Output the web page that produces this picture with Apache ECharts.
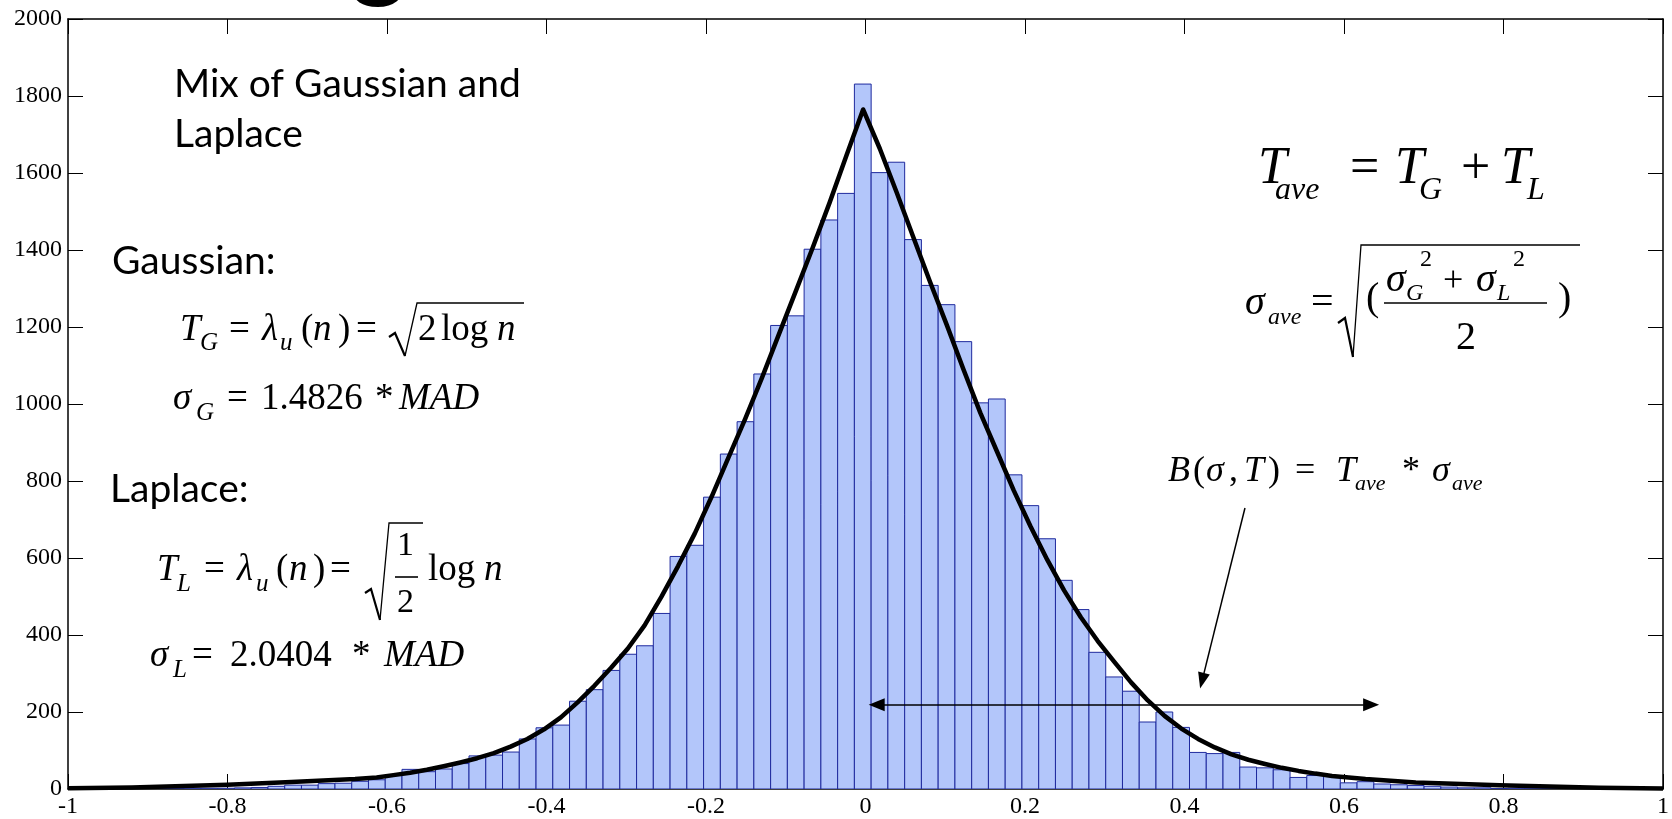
<!DOCTYPE html>
<html>
<head>
<meta charset="utf-8">
<title>Mix of Gaussian and Laplace</title>
<script src="https://cdn.jsdelivr.net/npm/echarts@6/dist/echarts.min.js"></script>
<style>
  * { margin: 0; padding: 0; }
  body { background: #fff; }
  #main { width: 1672px; height: 819px; }
</style>
</head>
<body>
<div id="main"></div>
<script>
// histogram: 95 bins, left edge of first bin and bin width (value units)
const binStart = -1.0014;
const binWidth = 0.02101;
const counts = [
  0, 0, 0, 0, 1, 1, 1, 2, 2, 2, 3, 4, 7, 10, 10, 14, 15, 20, 24, 37, 51, 45, 52, 66,
  86, 88, 96, 130, 159, 166, 228, 258, 308, 350, 372, 456, 604, 633, 758, 870, 954,
  1078, 1204, 1229, 1402, 1478, 1547,
  1831,
  1601, 1628, 1427, 1308, 1258, 1162, 1003, 1013, 816, 736, 650, 542, 466, 355, 291,
  254, 174, 200, 160, 95, 92, 95, 57, 55, 50, 30, 35, 33, 16, 19, 13, 11, 9, 7, 5, 3,
  3, 1, 2, 2, 1, 1, 1, 0, 0, 0, 0
];

// fitted curve
const curveX = [
  -1.0, -0.92, -0.80, -0.72, -0.64,
  -0.613, -0.592, -0.571, -0.550, -0.529, -0.508, -0.487, -0.466, -0.445, -0.424,
  -0.403, -0.382, -0.361, -0.340, -0.319, -0.298, -0.277, -0.256, -0.235, -0.214,
  -0.193, -0.172, -0.151, -0.130, -0.109, -0.088, -0.066, -0.045, -0.024, -0.003,
  0.018, 0.039, 0.060, 0.081, 0.102, 0.123, 0.144, 0.165, 0.186, 0.207, 0.228, 0.249,
  0.270, 0.291, 0.312, 0.333, 0.354, 0.375, 0.396, 0.417, 0.438, 0.459, 0.480, 0.501,
  0.522, 0.543, 0.564, 0.585,
  0.627, 0.69, 0.795, 0.92, 1.0
];
const curveY = [
  2, 4, 11, 18, 26,
  30, 36, 42, 50, 59, 69, 80, 93, 110, 130, 155, 186, 225, 268, 315, 365, 425, 499,
  579, 664, 759, 860, 961, 1067, 1179, 1290, 1407, 1523, 1645, 1765,
  1663, 1550, 1433, 1317, 1205, 1089, 977, 876, 775, 682, 595, 516, 446, 385, 330,
  277, 230, 190, 157, 130, 108, 90, 76, 65, 55, 47, 40, 34,
  26, 17, 10, 3, 1
];

// arrows (data coords)
const spanArrow = [[0.014, 219], [0.634, 219]];
const pointerArrow = [[0.4758, 730], [0.422, 281]];

const xTicks = { min: -1, max: 1, step: 0.2 };
const yTicks = { min: 0, max: 2000, step: 200 };

const serif = "'Liberation Serif', 'Times New Roman', serif";
const sans = "Lato, 'Noto Sans', sans-serif";

function txt(x, base, s, size, italic, fam) {
    fam = fam || serif;
    const k = fam === serif ? 0.3375 : 0.387;
    return {
        type: 'text', x: x, y: base - k * size, silent: true,
        style: {
            text: s, fill: '#000',
            font: (italic ? 'italic ' : '') + size + 'px ' + fam,
            textAlign: 'left', align: 'left',
            textVerticalAlign: 'middle', verticalAlign: 'middle'
        }
    };
}
function radical(a, b, c, d, e) {
    return [
        { type: 'polyline', silent: true, shape: { points: [a, b, c] },
          style: { stroke: '#000', lineWidth: 2.2, fill: null } },
        { type: 'polyline', silent: true, shape: { points: [c, d, e] },
          style: { stroke: '#000', lineWidth: 1.3, fill: null } }
    ];
}
function hline(x1, x2, y, w) {
    return { type: 'line', silent: true, shape: { x1: x1, y1: y, x2: x2, y2: y },
             style: { stroke: '#000', lineWidth: w || 1.5 } };
}

const M = 37, S = 25;
const graphics = [
    txt(350, -6, 'g', 110, false, sans),
    txt(174, 100, 'Mix of Gaussian and', 39, false, sans),
    txt(174, 150, 'Laplace', 39, false, sans),
    txt(112, 277, 'Gaussian:', 39, false, sans),
    txt(110, 505, 'Laplace:', 39, false, sans),

    // T_G = lambda_u(n) = sqrt(2 log n)
    txt(180, 343, 'T', M, true), txt(200, 352, 'G', S, true),
    txt(229, 343, '=', M), txt(262, 343, 'λ', M, true), txt(280, 352, 'u', S, true),
    txt(301, 343, '(', M), txt(313, 343, 'n', M, true), txt(338, 343, ')', M),
    txt(356, 343, '=', M),
    txt(418, 343, '2', M), txt(441, 343, 'log', M), txt(497, 343, 'n', M, true),
    ...radical([389, 337], [395, 333], [405, 356], [417, 303], [524, 303]),

    // sigma_G = 1.4826 * MAD
    txt(173, 412, 'σ', M, true), txt(196, 422, 'G', S, true),
    txt(227, 412, '=', M), txt(261, 412, '1.4826', M), txt(375, 412, '*', M),
    txt(399, 412, 'MAD', M, true),

    // T_L = lambda_u(n) = sqrt(1/2) log n
    txt(157, 583, 'T', M, true), txt(177, 593, 'L', S, true),
    txt(204, 583, '=', M), txt(237, 583, 'λ', M, true), txt(256, 593, 'u', S, true),
    txt(276, 583, '(', M), txt(289, 583, 'n', M, true), txt(313, 583, ')', M),
    txt(330, 583, '=', M),
    txt(397, 558, '1', 34), hline(395, 418, 577, 1.6), txt(397, 615, '2', 34),
    ...radical([365, 593], [371, 589], [380, 620], [389, 523], [423, 523]),
    txt(428, 583, 'log', M), txt(484, 583, 'n', M, true),

    // sigma_L = 2.0404 * MAD
    txt(150, 669, 'σ', M, true), txt(173, 679, 'L', S, true),
    txt(192, 669, '=', M), txt(230, 669, '2.0404', M), txt(352, 669, '*', M),
    txt(384, 669, 'MAD', M, true),

    // T_ave = T_G + T_L
    txt(1258, 187, 'T', 52, true), txt(1275, 201, 'ave', 32, true),
    txt(1350, 187, '=', 52), txt(1395, 187, 'T', 52, true), txt(1419, 201, 'G', 32, true),
    txt(1461, 187, '+', 52), txt(1501, 187, 'T', 52, true), txt(1527, 201, 'L', 32, true),

    // sigma_ave = sqrt((sigma_G^2 + sigma_L^2)/2)
    txt(1245, 317, 'σ', 40, true), txt(1268, 326, 'ave', 24, true),
    txt(1311, 317, '=', 40),
    ...radical([1338, 323], [1345, 318], [1353, 357], [1361, 245], [1580, 245]),
    txt(1366, 313, '(', 40),
    txt(1386, 294, 'σ', 40, true), txt(1406, 302, 'G', 24, true), txt(1420, 268, '2', 24),
    txt(1443, 294, '+', 36),
    txt(1476, 294, 'σ', 40, true), txt(1497, 302, 'L', 24, true), txt(1513, 268, '2', 24),
    hline(1384, 1547, 303, 1.6),
    txt(1456, 352, '2', 40),
    txt(1558, 313, ')', 40),

    // B(sigma,T) = T_ave * sigma_ave
    txt(1168, 484, 'B', 36, true), txt(1193, 484, '(', 36), txt(1206, 484, 'σ', 36, true),
    txt(1229, 484, ',', 36), txt(1244, 484, 'T', 36, true), txt(1268, 484, ')', 36),
    txt(1295, 484, '=', 36), txt(1336, 484, 'T', 36, true), txt(1355, 492, 'ave', 22, true),
    txt(1402, 484, '*', 36), txt(1432, 484, 'σ', 36, true), txt(1452, 492, 'ave', 22, true)
];

const bins = counts.map((c, i) => [binStart + i * binWidth, binStart + (i + 1) * binWidth, c]);
const curve = curveX.map((x, i) => [x, curveY[i]]);

const axisBase = {
    type: 'value',
    axisLine: { show: true, onZero: false, lineStyle: { color: '#000', width: 1.5 } },
    axisTick: { show: true, inside: true, length: 15, lineStyle: { color: '#000', width: 1 } },
    splitLine: { show: false }
};
const labelStyle = { color: '#000', fontFamily: serif, fontSize: 24, formatter: v => String(v) };

const chart = echarts.init(document.getElementById('main'), null, { renderer: 'canvas' });
chart.setOption({
    animation: false,
    backgroundColor: '#fff',
    grid: { left: 68, top: 19, width: 1600, height: 770 },
    xAxis: [
        Object.assign({}, axisBase, {
            position: 'bottom', min: xTicks.min, max: xTicks.max, interval: xTicks.step,
            axisLabel: Object.assign({ margin: 6 }, labelStyle)
        }),
        Object.assign({}, axisBase, {
            position: 'top', min: xTicks.min, max: xTicks.max, interval: xTicks.step,
            axisLabel: { show: false }
        })
    ],
    yAxis: [
        Object.assign({}, axisBase, {
            position: 'left', min: yTicks.min, max: yTicks.max, interval: yTicks.step,
            axisLabel: Object.assign({ margin: 6 }, labelStyle)
        }),
        Object.assign({}, axisBase, {
            position: 'right', min: yTicks.min, max: yTicks.max, interval: yTicks.step,
            axisLabel: { show: false }
        })
    ],
    series: [
        {
            type: 'custom',
            clip: true,
            silent: true,
            data: bins.filter(b => b[2] > 0),
            encode: { x: [0, 1], y: 2 },
            renderItem: function (params, api) {
                const p0 = api.coord([api.value(0), api.value(2)]);
                const p1 = api.coord([api.value(1), 0]);
                return {
                    type: 'rect',
                    shape: { x: p0[0], y: p0[1], width: p1[0] - p0[0], height: p1[1] - p0[1] },
                    style: { fill: '#b3c6fa', stroke: '#1f2a9e', lineWidth: 1 }
                };
            },
            z: 2
        },
        {
            type: 'line',
            data: curve,
            showSymbol: false,
            silent: true,
            lineStyle: { color: '#000', width: 4.5, join: 'round' },
            z: 3
        },
        {
            type: 'line', data: [], silent: true, z: 4,
            markLine: {
                silent: true, animation: false,
                symbol: ['triangle', 'triangle'], symbolSize: [13, 16],
                label: { show: false },
                lineStyle: { color: '#000', width: 1.5, type: 'solid' },
                emphasis: { disabled: true },
                data: [[{ coord: spanArrow[0] }, { coord: spanArrow[1] }]]
            }
        },
        {
            type: 'line', data: [], silent: true, z: 4,
            markLine: {
                silent: true, animation: false,
                symbol: ['none', 'triangle'], symbolSize: [12, 16],
                label: { show: false },
                lineStyle: { color: '#000', width: 1.5, type: 'solid' },
                emphasis: { disabled: true },
                data: [[{ coord: pointerArrow[0] }, { coord: pointerArrow[1] }]]
            }
        }
    ],
    graphic: graphics
});
</script>
</body>
</html>
